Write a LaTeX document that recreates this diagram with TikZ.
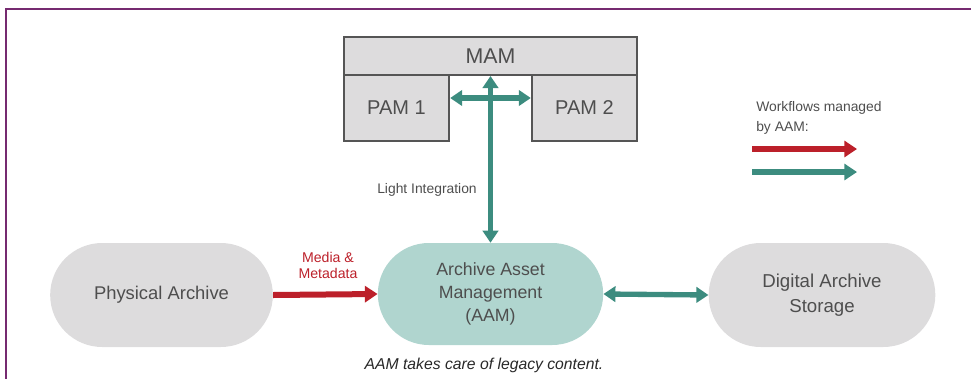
\documentclass[tikz,border=0pt]{standalone}
\usepackage{fontspec}
\setmainfont{Liberation Sans}
\usetikzlibrary{arrows.meta,shapes.misc}

\definecolor{framepurple}{RGB}{118,42,112}
\definecolor{boxgrey}{RGB}{221,220,221}
\definecolor{boxline}{RGB}{85,85,85}
\definecolor{aamteal}{RGB}{176,213,207}
\definecolor{flowred}{RGB}{188,32,42}
\definecolor{flowteal}{RGB}{60,140,127}
\definecolor{labelgrey}{RGB}{78,78,78}

\begin{document}
\begin{tikzpicture}[x=0.75pt,y=0.75pt,yscale=-1,xscale=1,
  pambox/.style={draw=boxline,line width=1.5pt,fill=boxgrey,inner sep=0pt,text=labelgrey},
  archbox/.style={rounded rectangle,fill=boxgrey,inner sep=0pt,text=labelgrey,align=center},
  flow/.style={line width=4.5pt,-{Triangle[length=9.5pt,width=12pt]}},
  dflow/.style={line width=4pt,{Triangle[length=9pt,width=11.5pt]}-{Triangle[length=9pt,width=11.5pt]}},
  smalltext/.style={font=\fontsize{10.4}{15}\selectfont,text=labelgrey,inner sep=0pt}]
\useasboundingbox (0,0) rectangle (971,379);

%Frame
\draw [color=framepurple,line width=1.3pt] (971,9) -- (6,9) -- (6,379) ;

%Rectangles: MAM and PAMs
\node [pambox,minimum width=220pt,minimum height=28.5pt,font=\fontsize{16}{19}\selectfont] (mam) at (490.5,56) {MAM};
\node [pambox,minimum width=79pt,minimum height=49.5pt,font=\fontsize{15}{18}\selectfont] (pam1) at (396.5,108) {PAM 1};
\node [pambox,minimum width=79pt,minimum height=49.5pt,font=\fontsize{15}{18}\selectfont] (pam2) at (584.5,108) {PAM 2};

%Rounded boxes
\node [archbox,minimum width=167pt,minimum height=78pt,font=\fontsize{13.8}{18}\selectfont] (phys) at (161.5,295) {Physical Archive};
\node [archbox,fill=aamteal,minimum width=169pt,minimum height=76.5pt,font=\fontsize{13.3}{17.25}\selectfont] (aam) at (490.5,294) {Archive Asset\\Management\\(AAM)};
\node [archbox,minimum width=170pt,minimum height=78pt,font=\fontsize{14}{19}\selectfont] (dig) at (822,295) {Digital Archive\\Storage};

%Straight Lines
\draw [dflow,color=flowteal] (aam.north) -- (mam.south) ;
\draw [dflow,color=flowteal] ([yshift=-7.5pt]pam1.east) -- ([yshift=-7.5pt]pam2.west) ;
\draw [flow,color=flowred] (phys.east) -- (aam.west) ;
\draw [dflow,color=flowteal] (aam.east) -- (dig.west) ;

%Legend
\coordinate (redstart) at (752,149) ;
\coordinate (redend) at (857,149) ;
\coordinate (tealstart) at (752,172) ;
\coordinate (tealend) at (857,172) ;
\draw [flow,color=flowred] (redstart) -- (redend) ;
\draw [flow,color=flowteal] (tealstart) -- (tealend) ;

% Text Node
\node [smalltext,anchor=west,align=left] (legtext) at (756,118) {Workflows managed\\by AAM:};
% Text Node
\node [smalltext] (light) at (427,190) {Light Integration};
% Text Node
\node [smalltext,text=flowred,align=center,font=\fontsize{10.6}{12}\selectfont] (media) at (328,265) {Media \&\\Metadata};
% Text Node
\node [inner sep=0pt,text={rgb,255:red,40;green,40;blue,40},font=\fontsize{11.8}{14}\selectfont\itshape] (caption) at (484,365) {AAM takes care of legacy content.};

\end{tikzpicture}
\end{document}
